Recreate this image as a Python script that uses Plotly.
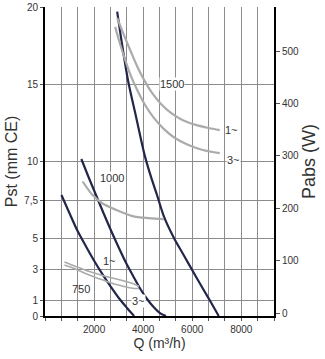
import plotly.graph_objects as go

# ---- data ----
# Static pressure curves Pst (mm CE) vs flow Q (m3/h), per speed
q_750 = [670, 994, 1319, 1672, 2009, 2346, 2686, 3023, 3360, 3632]
p_750 = [7.83, 6.67, 5.53, 4.50, 3.56, 2.69, 1.88, 1.13, 0.49, 0.0]
q_1000 = [1481, 1765, 2078, 2374, 2699, 3023, 3307, 3591, 3875, 4160, 4444, 4687, 4931]
p_1000 = [10.16, 9.03, 7.83, 6.70, 5.50, 4.37, 3.43, 2.59, 1.78, 1.10, 0.55, 0.19, 0.0]
q_1500 = [2942, 3145, 3388, 3713, 4066, 4321, 4565, 4849, 5255, 5661, 6067, 6432, 6756, 7081]
p_1500 = [19.70, 17.54, 15.21, 12.88, 10.38, 9.00, 7.83, 6.43, 5.05, 3.92, 2.78, 1.78, 0.91, 0.0]

# Absorbed power Pabs (W) vs Q
q_pw1500_1 = [2942, 3186, 3470, 3754, 4038, 4362, 4728, 5133, 5620, 6148, 6675, 7122]
w_pw1500_1 = [563, 534, 502, 471, 445, 420, 399, 382, 368, 359, 353, 349]
q_pw1500_3 = [2861, 3023, 3226, 3470, 3754, 4078, 4444, 4850, 5296, 5823, 6432, 7122]
w_pw1500_3 = [546, 519, 489, 456, 426, 397, 372, 351, 334, 321, 311, 305]
q_pw1000 = [1534, 1940, 2346, 2889, 3563, 4241, 4850]
w_pw1000 = [251, 225, 209, 197, 185, 181, 179]
q_pw750 = [792, 1197, 1603, 2009, 2415, 2821, 3226, 3632, 3835]
w_pw750_1 = [97.3, 89.7, 82.8, 76.3, 70.6, 65.8, 61.1, 55.3, 50.6]
w_pw750_3 = [91.6, 84.9, 76.3, 68.7, 62.0, 55.3, 50.6, 46.8, 46.8]

# ticks
x_grid_step = 2000 / 3
x_tickvals = [i * x_grid_step for i in range(15)]
x_ticktext = ["2000" if i == 3 else "4000" if i == 6 else "6000" if i == 9 else "8000" if i == 12 else "" for i in range(15)]
y_tickvals = [0, 1, 3, 5, 7.5, 10, 15, 20]
y_ticktext = ["0", "1", "3", "5", "7,5", "10", "15", "20"]
y2_tickvals = [0, 100, 200, 300, 400, 500]

DARK = "#23264a"
GRAY = "#ababab"
GRID = "#8c8c8c"
TXT = "#333333"
FONT = "Liberation Sans, Arial, sans-serif"

fig = go.Figure()
for q, p in [(q_750, p_750), (q_1000, p_1000), (q_1500, p_1500)]:
    fig.add_trace(go.Scatter(x=q, y=p, mode="lines", line=dict(color=DARK, width=2.2, shape="spline", smoothing=0.8),
                             showlegend=False, hoverinfo="skip"))
for q, w, lw in [(q_pw1500_1, w_pw1500_1, 2.2), (q_pw1500_3, w_pw1500_3, 2.2), (q_pw1000, w_pw1000, 2.2),
                 (q_pw750, w_pw750_1, 1.6), (q_pw750, w_pw750_3, 1.6)]:
    fig.add_trace(go.Scatter(x=q, y=w, yaxis="y2", mode="lines", line=dict(color=GRAY, width=lw, shape="spline", smoothing=0.8),
                             showlegend=False, hoverinfo="skip"))

labels = [("1500", 5174, 15.0, True), ("1000", 2739, 8.93, True), ("1~", 7609, 12.04, False),
          ("3~", 7670, 10.10, True), ("1~", 2617, 3.56, False), ("750", 1461, 1.75, False), ("3~", 3794, 0.97, True)]
for t, x, y, bg in labels:
    fig.add_annotation(x=x, y=y, text=t, showarrow=False, font=dict(size=11, color=TXT, family=FONT),
                       bgcolor="white" if bg else "rgba(0,0,0,0)", borderpad=0)

fig.update_layout(
    template="none",
    width=325, height=359,
    margin=dict(l=45, r=51, t=7, b=43),
    paper_bgcolor="white", plot_bgcolor="rgba(0,0,0,0)",
    font=dict(family=FONT, color=TXT, size=10),
    xaxis=dict(range=[0, 14 * x_grid_step], tickmode="array", tickvals=x_tickvals, ticktext=x_ticktext,
               showgrid=True, gridcolor=GRID, gridwidth=1, zeroline=False,
               showline=True, linecolor="black", linewidth=2,
               ticks="outside", ticklen=3, tickcolor="#555", tickfont=dict(size=10, color=TXT),
               title=dict(text="Q (m³/h)", font=dict(size=14, color=TXT), standoff=2)),
    yaxis=dict(range=[0, 20], tickmode="array", tickvals=y_tickvals, ticktext=y_ticktext,
               showgrid=True, gridcolor=GRID, gridwidth=1, zeroline=False,
               showline=True, linecolor="black", linewidth=2,
               ticks="outside", ticklen=3, tickcolor="#555", tickfont=dict(size=10, color=TXT),
               title=dict(text="Pst (mm CE)", font=dict(size=16, color=TXT), standoff=2)),
    yaxis2=dict(range=[-5.7, 584], overlaying="y", side="right", tickmode="array", tickvals=y2_tickvals,
                showgrid=False, zeroline=False, showline=True, linecolor="black", linewidth=2,
                ticks="outside", ticklen=4, tickcolor="#555", tickfont=dict(size=10, color=TXT),
                title=dict(text="Pabs (W)", font=dict(size=18, color=TXT), standoff=3)),
)

fig.write_html("out.html")
